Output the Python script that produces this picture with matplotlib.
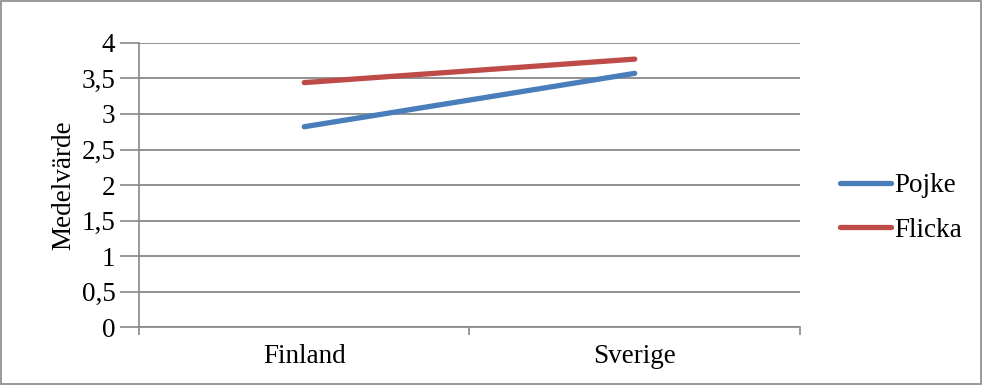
""" Medelvärde per land och kön """

import matplotlib.pyplot as plt
from matplotlib.patches import Rectangle

# Data
countries = ["Finland", "Sverige"]
pojke = [2.82, 3.57]
flicka = [3.44, 3.77]
y_ticks = [0, 0.5, 1, 1.5, 2, 2.5, 3, 3.5, 4]
y_tick_labels = ["0", "0,5", "1", "1,5", "2", "2,5", "3", "3,5", "4"]

plt.rcParams["font.family"] = ["Liberation Serif", "DejaVu Serif"]
FS = 19.5

fig = plt.figure(figsize=(9.83, 3.85), dpi=100)
ax = fig.add_axes([0.1414, 0.1494, 0.6724, 0.7396])

# Outer chart border
fig.patches.append(Rectangle((0.001, 0.002), 0.997, 0.995, transform=fig.transFigure,
                             fill=False, edgecolor="#888888", linewidth=1.2))

x_pos = [i + 0.5 for i in range(len(countries))]
ax.plot(x_pos, pojke, color="#4A7EBB", linewidth=3.8, solid_capstyle="round", label="Pojke")
ax.plot(x_pos, flicka, color="#BE4B48", linewidth=3.8, solid_capstyle="round", label="Flicka")

ax.set_xlim(0, len(countries))
ax.set_ylim(0, 4)
ax.set_yticks(y_ticks)
ax.set_yticklabels(y_tick_labels, fontsize=FS)
ax.set_xticks([0, 1, 2])
ax.set_xticklabels([])
ax.set_xticks(x_pos, minor=True)
ax.set_xticklabels(countries, minor=True, fontsize=FS)
ax.tick_params(axis="x", which="minor", length=0, pad=12)
ax.tick_params(axis="x", which="major", length=6, color="#888888", width=1.2, direction="out")
ax.tick_params(axis="y", length=14, color="#888888", width=1.2, pad=3)

ax.grid(axis="y", color="#888888", linewidth=1.3)
ax.set_axisbelow(True)
for side in ["top", "right"]:
    ax.spines[side].set_visible(False)
for side in ["left", "bottom"]:
    ax.spines[side].set_color("#888888")
    ax.spines[side].set_linewidth(1.2)

ax.set_ylabel("Medelvärde", fontsize=FS, labelpad=4)

ax.legend(loc="center left", bbox_to_anchor=(1.06, 0.42), frameon=False, fontsize=FS,
          handlelength=1.9, handletextpad=0.12, labelspacing=0.72, borderpad=0,
          borderaxespad=0)

plt.savefig("out.png", dpi=100)
